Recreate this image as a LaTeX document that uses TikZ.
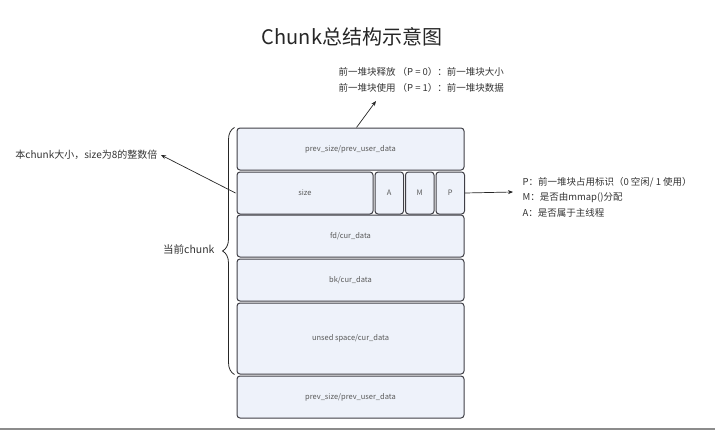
\documentclass[tikz,border=0pt]{standalone}
\usepackage{fontspec}
\setmainfont{Noto Sans CJK SC}
\usepackage{xcolor}
\usetikzlibrary{arrows.meta,positioning,decorations.pathreplacing}

\definecolor{boxfill}{HTML}{EEF2FA}
\definecolor{boxline}{HTML}{3F3F46}
\definecolor{notetext}{HTML}{333333}

\begin{document}
\begin{tikzpicture}[
  x=1pt,y=-1pt,
  node distance=1pt and 1pt,
  every node/.style={font=\fontsize{9.5}{15.5}\selectfont,text=notetext},
  field/.style={rectangle,rounded corners=3pt,draw=boxline,fill=boxfill,line width=1pt,
    minimum width=227pt,minimum height=42pt,inner sep=0pt,
    font=\fontsize{7.5}{9}\selectfont,text=black!65},
  flag/.style={field,minimum width=28.5pt},
  arrow/.style={-{Stealth[length=5pt,width=4pt]},line width=0.7pt,draw=black!85}
]
\useasboundingbox (0,0) rectangle (715,431);

% title
\node[font=\fontsize{20}{24}\selectfont,text=black!85] (title) at (352,37) {Chunk总结构示意图};

% chunk fields
\node[field] (prevtop) at (350.5,149) {prev\_size/prev\_user\_data};
\node[field,minimum width=136pt,below=of prevtop.south west,anchor=north west] (sizebox) {size};
\node[flag,right=of sizebox] (abox) {A};
\node[flag,right=of abox] (mbox) {M};
\node[flag,right=of mbox] (pbox) {P};
\node[field,below=of prevtop,yshift=-43pt] (fdbox) {fd/cur\_data};
\node[field,below=of fdbox] (bkbox) {bk/cur\_data};
\node[field,below=of bkbox,minimum height=71pt] (unused) {unsed space/cur\_data};
\node[field,below=of unused] (prevbot) {prev\_size/prev\_user\_data};

% notes
\node[align=left,anchor=west] (prevnote) at (335,80)
  {前一堆块释放 （P = 0）：前一堆块大小\\前一堆块使用 （P = 1）：前一堆块数据};
\node[anchor=east,font=\fontsize{10}{12}\selectfont] (sizenote) at (161,155) {本chunk大小，size为8的整数倍};
\node[align=left,anchor=west] (flagnote) at (519,197)
  {P：前一堆块占用标识（0 空闲/ 1 使用）\\M：是否由mmap()分配\\A：是否属于主线程};
\node[anchor=east,font=\fontsize{10.5}{12}\selectfont] (curlabel) at (218,249) {当前chunk};
\coordinate (prevtip) at (376,101);
\coordinate (flagtip) at (513,192);

% connectors
\draw[arrow] ([xshift=6pt]prevtop.north) -- (prevtip);
\draw[arrow] ([xshift=-1pt]sizebox.west) -- (sizenote.east);
\draw[arrow] (pbox.east) -- (flagtip);
\draw[decorate,decoration={brace,amplitude=12pt},line width=0.8pt,draw=black!85]
  ([xshift=-2pt]unused.south west) -- ([xshift=-2pt]prevtop.north west);

% bottom rule
\draw[black!45,line width=1.2pt] (0,429) -- (715,429);
\end{tikzpicture}
\end{document}
